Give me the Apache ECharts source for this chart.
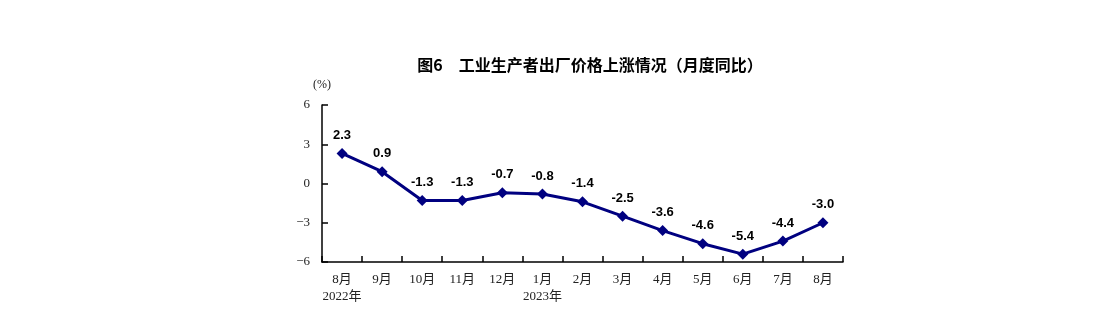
<!DOCTYPE html>
<html><head><meta charset="utf-8">
<script src="https://cdn.jsdelivr.net/npm/echarts@6/dist/echarts.min.js"></script>
<style>html,body{margin:0;padding:0;background:#fff}#c{width:1098px;height:336px}</style>
</head><body><div id="c"></div>
<script>
const categories = ['8月\n2022年','9月','10月','11月','12月','1月\n2023年','2月','3月','4月','5月','6月','7月','8月'];
const values = [2.3, 0.9, -1.3, -1.3, -0.7, -0.8, -1.4, -2.5, -3.6, -4.6, -5.4, -4.4, -3.0];
const titleText = '图6　工业生产者出厂价格上涨情况（月度同比）';
const unitText = '(%)';

const chart = echarts.init(document.getElementById('c'), null, {renderer:'canvas'});
chart.setOption({
  animation:false,
  title:{text:titleText,left:585,top:52,textAlign:'center',
    textStyle:{fontFamily:'"Noto Sans CJK SC"',fontSize:16,fontWeight:'bold',color:'#000'}},
  grid:{left:322,right:255,top:105,bottom:74,containLabel:false},
  xAxis:{type:'category',data:categories,boundaryGap:true,
    axisLine:{show:true,onZero:false,lineStyle:{color:'#000',width:1.5}},
    axisTick:{show:true,inside:true,length:6,interval:0,lineStyle:{color:'#000',width:1.5}},
    axisLabel:{interval:0,margin:9,color:'#222',fontFamily:'"Liberation Serif","Noto Sans CJK SC"',fontSize:13,lineHeight:17}},
  yAxis:{type:'value',min:-6,max:6,interval:3,name:unitText,nameLocation:'end',nameGap:14,
    nameTextStyle:{fontFamily:'"Liberation Serif"',fontSize:12,color:'#222',align:'center'},
    axisLine:{show:true,lineStyle:{color:'#000',width:1.5}},
    axisTick:{show:true,inside:true,length:6,lineStyle:{color:'#000',width:1.5}},
    splitLine:{show:false},
    axisLabel:{margin:12,color:'#222',fontFamily:'"Liberation Serif"',fontSize:13,
      formatter:v=>String(v).replace('-','\u2212')}},
  series:[{type:'line',data:values,symbol:'diamond',symbolSize:11,
    lineStyle:{color:'#000080',width:3},itemStyle:{color:'#000080'},
    label:{show:true,position:'top',distance:6,fontFamily:'"Liberation Sans",Arial',fontWeight:'bold',fontSize:13,color:'#000',
      formatter:p=>p.value.toFixed(1)}}]
});
</script></body></html>
